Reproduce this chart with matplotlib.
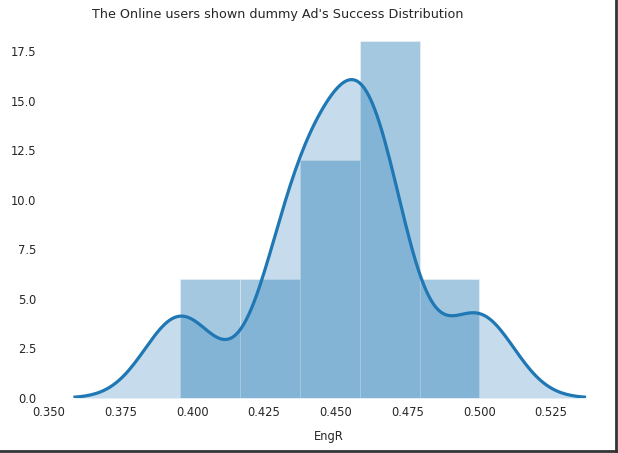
import numpy as np
import matplotlib
matplotlib.use("Agg")
import matplotlib.pyplot as plt
from matplotlib.lines import Line2D

# engagement rate samples (read back from the histogram + kde shape)
engr = [0.3958, 0.434, 0.438, 0.450, 0.459, 0.461, 0.468, 0.500]
n_bins = 5
bw = 0.0122  # kde bandwidth
title = "The Online users shown dummy Ad's Success Distribution"
xlabel = "EngR"

blue = "#1f77b4"
txt = "#262626"

data = np.array(engr)

# gaussian kde, cut = 3 bandwidths like seaborn
grid = np.linspace(data.min() - 3 * bw, data.max() + 3 * bw, 200)
dens = np.exp(-0.5 * ((grid[:, None] - data[None, :]) / bw) ** 2).sum(axis=1)
dens /= len(data) * bw * np.sqrt(2 * np.pi)

fig = plt.figure(figsize=(6.18, 4.53), dpi=100)
ax = fig.add_axes([0.0786, 0.1214, 0.9084, 0.8274])

ax.hist(data, bins=n_bins, density=True, color=blue, alpha=0.4,
        edgecolor="white", linewidth=0.6)
ax.fill_between(grid, dens, color=blue, alpha=0.25, linewidth=0)
ax.plot(grid, dens, color=blue, lw=2.3)

ax.set_xlim(grid.min() - 0.05 * np.ptp(grid), grid.max() + 0.05 * np.ptp(grid))
ax.set_ylim(0, 18.9)
ax.set_xticks(np.arange(0.35, 0.526, 0.025))
ax.set_yticks(np.arange(0, 17.6, 2.5))
ax.set_xticklabels([f"{v:.3f}" for v in ax.get_xticks()])
ax.set_yticklabels([f"{v:.1f}" for v in ax.get_yticks()])
ax.tick_params(length=0, labelsize=8.3, labelcolor=txt)
ax.tick_params(axis="x", pad=6)
ax.tick_params(axis="y", pad=9)
for s in ax.spines.values():
    s.set_visible(False)

ax.set_title(title, fontsize=9.15, color=txt, pad=4, x=0.4086)
ax.set_xlabel(xlabel, fontsize=8.3, color=txt, labelpad=8)

# dark frame on right/bottom edge of the screenshot
fig.add_artist(Line2D([0.9962, 0.9962], [0, 1], transform=fig.transFigure,
                      color="#333333", lw=2))
fig.add_artist(Line2D([0, 1], [0.0045, 0.0045], transform=fig.transFigure,
                      color="#333333", lw=2))

fig.savefig("out.png", dpi=100)
